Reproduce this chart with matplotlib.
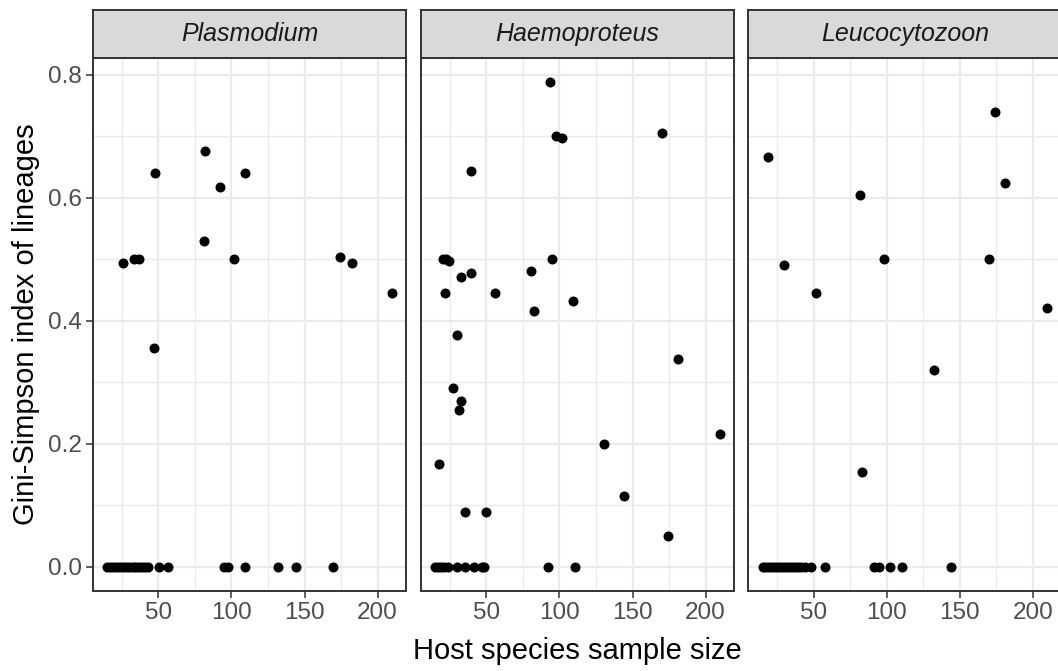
import matplotlib
matplotlib.use("Agg")
import matplotlib.pyplot as plt
import numpy as np

plt.rcParams['font.family'] = ['Liberation Sans', 'DejaVu Sans']

genera = ["Plasmodium", "Haemoproteus", "Leucocytozoon"]

# Plasmodium
plas_x = [48, 82, 92, 109.6, 81, 101.6, 26, 33.4, 36.8, 174, 182.4, 209.7, 47.2,
          15, 17, 19, 21, 23, 25, 27, 29, 31, 33, 35, 37, 39, 41, 43,
          50.5, 56.6, 94.8, 97.5, 109.6, 131.6, 144.2, 169.8]
plas_y = [0.64, 0.676, 0.617, 0.64, 0.53, 0.5, 0.494, 0.5, 0.5, 0.503, 0.494, 0.444, 0.356,
          0, 0, 0, 0, 0, 0, 0, 0, 0, 0, 0, 0, 0, 0, 0,
          0, 0, 0, 0, 0, 0, 0, 0]

# Haemoproteus
haem_x = [93.8, 97.9, 102, 170, 39.6, 20.4, 22.5, 24.5, 95.2, 39.6, 32.4, 80.2, 21.8, 55.7,
          109, 82.9, 29.9, 27.2, 32.8, 31, 181.2, 209.6, 130.7, 17.4, 144.3, 35.3, 50, 174.4,
          15, 17, 19, 21, 23.5, 30, 35.6, 41.2, 46.9, 48.3, 92.5, 110.3]
haem_y = [0.787, 0.700, 0.696, 0.705, 0.643, 0.5, 0.5, 0.497, 0.5, 0.477, 0.470, 0.481, 0.444, 0.444,
          0.431, 0.415, 0.376, 0.291, 0.269, 0.255, 0.337, 0.216, 0.2, 0.167, 0.115, 0.088, 0.088, 0.049,
          0, 0, 0, 0, 0, 0, 0, 0, 0, 0, 0, 0]

# Leucocytozoon
leuc_x = [19, 174.2, 181, 81.8, 29.8, 97.8, 170.1, 51.6, 209.6, 132.1, 83.1,
          15, 17, 19, 21, 23, 25, 27, 29, 31, 33, 35, 37, 39, 41, 44,
          48.5, 57.5, 91.5, 94.9, 102.2, 110.3, 144.3]
leuc_y = [0.666, 0.739, 0.624, 0.604, 0.49, 0.5, 0.5, 0.444, 0.421, 0.32, 0.154,
          0, 0, 0, 0, 0, 0, 0, 0, 0, 0, 0, 0, 0, 0, 0,
          0, 0, 0, 0, 0, 0, 0]

xs = [plas_x, haem_x, leuc_x]
ys = [plas_y, haem_y, leuc_y]

allx = np.concatenate([np.array(v) for v in xs])
ally = np.concatenate([np.array(v) for v in ys])
xpad = 0.05 * (allx.max() - allx.min())
ypad = 0.05 * (ally.max() - ally.min())
xlim = (allx.min() - xpad, allx.max() + xpad)
ylim = (ally.min() - ypad, ally.max() + ypad)

W, H = 1058, 671
fig = plt.figure(figsize=(W / 100, H / 100), dpi=100)

lefts = [93, 421, 748.3]
pw = 313
ptop, pbot = 58.3, 590.7
stop = 10

edge = '#333333'
for i, name in enumerate(genera):
    ax = fig.add_axes([lefts[i] / W, 1 - pbot / H, pw / W, (pbot - ptop) / H])
    ax.set_xlim(xlim)
    ax.set_ylim(ylim)
    ax.set_xticks([50, 100, 150, 200])
    ax.set_xticks([25, 75, 125, 175], minor=True)
    ax.set_yticks([0, 0.2, 0.4, 0.6, 0.8])
    ax.set_yticks([0.1, 0.3, 0.5, 0.7], minor=True)
    ax.grid(True, which='major', color='#EBEBEB', lw=1.6)
    ax.grid(True, which='minor', color='#EBEBEB', lw=1.0)
    ax.set_axisbelow(True)
    ax.scatter(xs[i], ys[i], s=52, color='black', linewidths=0, zorder=3)
    for sp in ax.spines.values():
        sp.set_color(edge)
        sp.set_linewidth(1.4)
    ax.tick_params(which='major', length=5, width=1.1, color=edge,
                   labelsize=17.5, labelcolor='#4D4D4D', pad=3)
    ax.tick_params(which='minor', length=0)
    ax.yaxis.set_major_formatter(matplotlib.ticker.FormatStrFormatter('%.1f'))
    if i > 0:
        ax.tick_params(axis='y', which='both', left=False, labelleft=False)

    sx = fig.add_axes([lefts[i] / W, 1 - ptop / H, pw / W, (ptop - stop) / H])
    sx.set_facecolor('#D9D9D9')
    sx.set_xticks([])
    sx.set_yticks([])
    for sp in sx.spines.values():
        sp.set_color(edge)
        sp.set_linewidth(1.4)
    sx.text(0.5, 0.5, name, transform=sx.transAxes, ha='center', va='center',
            fontsize=18, style='italic', color='#1A1A1A')

fig.text(577 / W, 1 - 651 / H, "Host species sample size", ha='center', va='center',
         fontsize=21, color='black')
fig.text(26 / W, 1 - 324.5 / H, "Gini-Simpson index of lineages", ha='center', va='center',
         rotation=90, fontsize=21, color='black')

fig.savefig("out.png", dpi=100)
